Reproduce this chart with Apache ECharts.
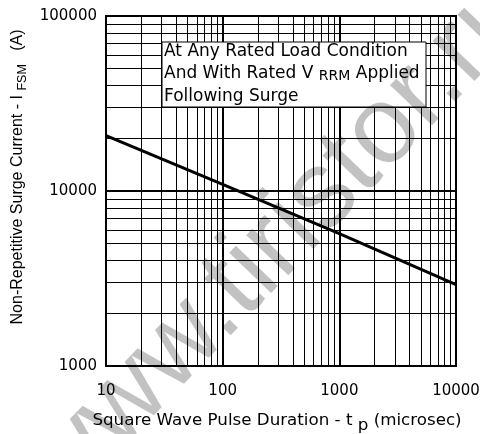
<!DOCTYPE html>
<html>
<head>
<meta charset="utf-8">
<script src="https://cdn.jsdelivr.net/npm/echarts@6/dist/echarts.min.js"></script>
<style>html,body{margin:0;padding:0;background:#fff;}#c{width:480px;height:434px;}</style>
</head>
<body>
<div id="c"></div>
<script>
// Data
var pulseDuration = [10, 100, 1000, 10000];        // microsec
var surgeCurrent  = [20700, 10900, 5700, 2920];     // A
var xTicks = [10, 100, 1000, 10000];
var yTicks = [1000, 10000, 100000];
var xMinorGrid = [20,30,40,50,60,70,80,90,200,300,400,500,600,700,800,900,2000,3000,4000,5000,6000,7000,8000,9000];
var xMajorGrid = [100, 1000];
var yMinorGrid = [2000,3000,4000,5000,6000,7000,8000,9000,20000,30000,40000,50000,60000,70000,80000,90000];
var yMajorGrid = [10000];

var chart = echarts.init(document.getElementById('c'), null, {renderer: 'canvas'});

var gridLines = [];
xMinorGrid.forEach(function(v){ gridLines.push({xAxis: v, lineStyle:{color:'#000', width:1, type:'solid'}}); });
xMajorGrid.forEach(function(v){ gridLines.push({xAxis: v, lineStyle:{color:'#000', width:2, type:'solid'}}); });
yMinorGrid.forEach(function(v){ gridLines.push({yAxis: v, lineStyle:{color:'#000', width:1, type:'solid'}}); });
yMajorGrid.forEach(function(v){ gridLines.push({yAxis: v, lineStyle:{color:'#000', width:2, type:'solid'}}); });

var fmt = function(v){ return String(Math.round(v)); };

chart.setOption({
  animation: false,
  backgroundColor: '#fff',
  grid: {left: 106, right: 24, top: 16, bottom: 68, containLabel: false, outerBoundsMode: 'none',
    show: true, borderColor: '#000', borderWidth: 2, backgroundColor: 'transparent'},
  xAxis: {
    type: 'log', logBase: 10, min: 10, max: 10000,
    axisLine: {show: true, lineStyle: {color: '#000', width: 2}},
    axisTick: {show: false},
    splitLine: {show: false},
    axisLabel: {color: '#000', fontFamily: 'DejaVu Sans', fontSize: 15, margin: 18, formatter: fmt,
      customValues: xTicks},
    name: 'Square Wave Pulse Duration - t {s|p} (microsec)',
    nameLocation: 'middle', nameGap: 41,
    nameTextStyle: {color: '#000', fontFamily: 'DejaVu Sans', fontSize: 16.7, padding: [0, 8, 0, 0],
      rich: {s: {fontFamily: 'DejaVu Sans', fontSize: 16.7, color: '#000', padding: [10, 0, 0, 0]}}}
  },
  yAxis: {
    type: 'log', logBase: 10, min: 1000, max: 100000,
    axisLine: {show: true, lineStyle: {color: '#000', width: 2}},
    axisTick: {show: false},
    splitLine: {show: false},
    axisLabel: {color: '#000', fontFamily: 'DejaVu Sans', fontSize: 15, margin: 9, formatter: fmt,
      customValues: yTicks},
    name: 'Non-Repetitive Surge Current - I {s|FSM}   (A)',
    nameLocation: 'middle', nameGap: 75, nameRotate: 90,
    nameTextStyle: {color: '#000', fontFamily: 'Liberation Sans', fontSize: 16, padding: [0, 0, 0, 28],
      rich: {s: {fontFamily: 'Liberation Sans', fontSize: 12.5, color: '#000', padding: [10, 0, 0, 0]}}}
  },
  series: [{
    type: 'line',
    data: pulseDuration.map(function(x, i){ return [x, surgeCurrent[i]]; }),
    showSymbol: false,
    lineStyle: {color: '#000', width: 3},
    z: 5,
    markLine: {silent: true, symbol: 'none', label: {show: false}, animation: false, z: 1, data: gridLines}
  }],
  graphic: [
    {type: 'rect', z: 100, shape: {x: 162, y: 42, width: 264, height: 65},
     style: {fill: '#fff', stroke: '#000', lineWidth: 1}},
    {type: 'text', z: 101, left: 164, top: 40,
     style: {text: 'At Any Rated Load Condition\nAnd With Rated V {s|RRM} Applied\nFollowing Surge',
       fill: '#000', font: '17px "DejaVu Sans"', lineHeight: 22.5,
       rich: {s: {fontFamily: 'DejaVu Sans', fontSize: 14, fill: '#000', padding: [6, 0, 0, 0]}}}},
    {type: 'text', z: 120, x: 278, y: 242, rotation: 0.806,
     style: {text: 'www.tiristor.ru', fill: 'rgba(0,0,0,0.24)', font: '110px "Liberation Sans"',
       textAlign: 'center', textVerticalAlign: 'middle'}}
  ]
});
</script>
</body>
</html>
